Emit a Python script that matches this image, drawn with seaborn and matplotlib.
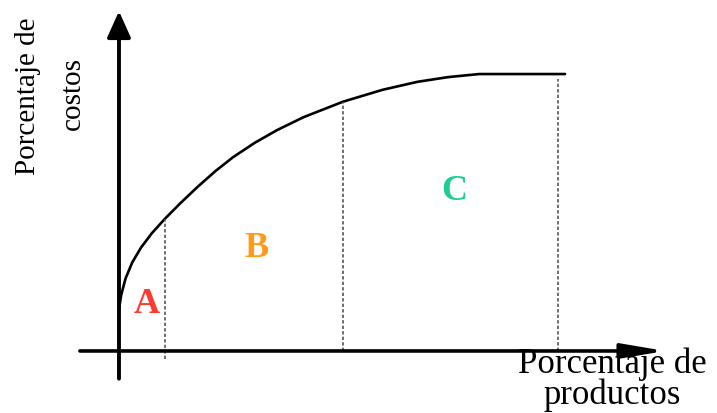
import matplotlib
matplotlib.use("Agg")
import matplotlib.pyplot as plt
import seaborn as sns
import pandas as pd

# Data: cumulative % of cost vs % of products
pct_products = [0, 0.5, 1.5, 3, 5, 7.5, 10.5, 14, 18, 22, 26, 31, 36, 42, 51,
                60, 68, 75, 82, 101.6]
pct_costs = [15.2, 20.2, 26.2, 31.9, 37.3, 42.55, 47.8, 53.4, 59.4, 65.0, 70.0,
             75.25, 79.75, 84.4, 90.0, 94.3, 97.2, 98.9, 100.0, 100.0]

# class boundaries (x position, top of dashed line, bottom of dashed line)
bound_x = [10.5, 51.0, 100.0]
bound_top = [47.7, 89.9, 98.2]
bound_bottom = [-2.9, 0.0, 0.0]

class_labels = ["A", "B", "C"]
class_x = [6.2, 31.4, 76.3]
class_y = [17.0, 37.5, 57.8]
class_colors = ["#ff3b2f", "#ff9a1a", "#1fcc96"]

df = pd.DataFrame({"productos": pct_products, "costos": pct_costs})

sns.set_theme(style="white")
plt.rcParams["font.family"] = ["Liberation Serif", "DejaVu Serif"]

fig = plt.figure(figsize=(7.17, 4.14), dpi=100)
ax = fig.add_axes([0, 0, 1, 1])
ax.set_xlim(-27.1, 136.2)
ax.set_ylim(-22.4, 127.1)
ax.axis("off")

# axes with arrows
ax.annotate("", xy=(0, 122.7), xytext=(0, -10),
            arrowprops=dict(arrowstyle="-|>,head_length=0.4,head_width=0.18",
                            mutation_scale=40, lw=2.8, color="black",
                            shrinkA=0, shrinkB=0))
ax.annotate("", xy=(124.4, 0), xytext=(-8.9, 0),
            arrowprops=dict(arrowstyle="-|>,head_length=0.65,head_width=0.11",
                            mutation_scale=40, lw=2.6, color="black",
                            shrinkA=0, shrinkB=0))

# curve
sns.lineplot(data=df, x="productos", y="costos", ax=ax, color="black",
             lw=1.9, sort=False, estimator=None, solid_joinstyle="round",
             solid_capstyle="round")

# dashed boundaries
for bx, bt, bb in zip(bound_x, bound_top, bound_bottom):
    ax.vlines(bx, bb, bt, colors="#555555", lw=1.2, linestyles=(0, (2.0, 1.3)))

for lab, lx, ly, c in zip(class_labels, class_x, class_y, class_colors):
    ax.text(lx, ly, lab, color=c, fontsize=26, fontweight="bold",
            ha="center", va="center")

# axis labels
fig.text(28 / 717, 1 - 96 / 414, "Porcentaje de", rotation=90, fontsize=21,
         ha="center", va="center", color="black")
fig.text(73 / 717, 1 - 94 / 414, "costos", rotation=90, fontsize=21,
         ha="center", va="center", color="black")
fig.text(612 / 717, 1 - 348 / 414, "Porcentaje de\nproductos", fontsize=25,
         ha="center", va="top", multialignment="center", linespacing=0.88,
         color="black")

fig.savefig("out.png", dpi=100)
